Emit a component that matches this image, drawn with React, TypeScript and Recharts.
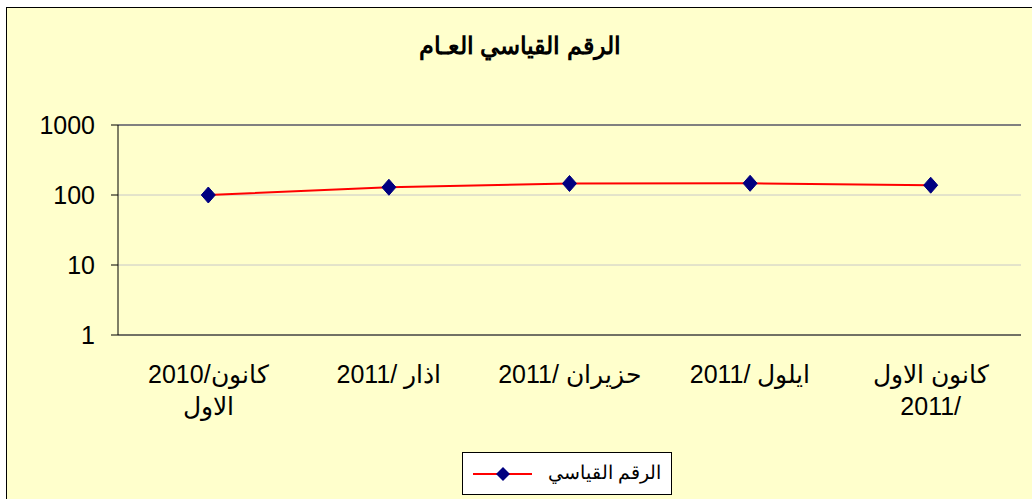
import { LineChart, Line, XAxis, YAxis, CartesianGrid, Legend, ReferenceLine } from "recharts";

const labelsTop = ["كانون/2010", "اذار /2011", "حزيران /2011", "ايلول /2011", "كانون الاول"];
const labelsBottom = ["الاول", "", "", "", "2011/"];
const values = [100, 129, 146, 147, 138];
const yTicks = [1, 10, 100, 1000];
const seriesName = "الرقم القياسي";
const title = "الرقم القياسي العـام";

const data = values.map((v, i) => ({ idx: i, value: v }));
const boundaries = [-0.5, 0.5, 1.5, 2.5, 3.5, 4.5];

const FONT = "'Liberation Sans', Arial, sans-serif";

const Diamond = (props: any) => {
  const { cx, cy } = props;
  if (cx == null || cy == null) return null;
  return (
    <polygon
      points={`${cx},${cy - 8} ${cx + 7},${cy} ${cx},${cy + 8} ${cx - 7},${cy}`}
      fill="#000080"
      stroke="#000080"
    />
  );
};

const XTick = (props: any) => {
  const { x, y, payload } = props;
  const i = payload.value;
  return (
    <g>
      <text x={x} y={y + 33} textAnchor="middle" fontSize={25} fill="#000" fontFamily={FONT}>
        {labelsTop[i]}
      </text>
      {labelsBottom[i] && (
        <text x={x} y={y + 65} textAnchor="middle" fontSize={25} fill="#000" fontFamily={FONT}>
          {labelsBottom[i]}
        </text>
      )}
    </g>
  );
};

const LegendBox = () => (
  <div
    style={{
      width: 208,
      height: 41,
      border: "1px solid #000",
      background: "#fff",
      position: "relative",
      fontFamily: FONT,
    }}
  >
    <svg width={80} height={41} style={{ position: "absolute", left: 8, top: 0 }}>
      <line x1={2} y1={21} x2={61} y2={21} stroke="#FF0000" strokeWidth={2} />
      <polygon points="32,14 39,21 32,28 25,21" fill="#000080" />
    </svg>
    <div style={{ position: "absolute", right: 10, top: 8, fontSize: 19, color: "#000" }}>
      {seriesName}
    </div>
  </div>
);

export default function App() {
  return (
    <div
      style={{
        position: "fixed",
        left: 0,
        top: 0,
        width: 1032,
        height: 499,
        overflow: "hidden",
        background: "#fff",
      }}
    >
      <div
        style={{
          position: "absolute",
          left: 6,
          top: 7,
          width: 1040,
          height: 510,
          border: "1px solid #000",
          background: "#FFFFCC",
        }}
      >
        <div
          style={{
            position: "absolute",
            left: 0,
            width: 1026,
            top: 24,
            textAlign: "center",
            fontFamily: FONT,
            fontWeight: "bold",
            fontSize: 24,
            color: "#000",
          }}
        >
          {title}
        </div>
        <LineChart
          width={1040}
          height={510}
          data={data}
          margin={{ top: 117, right: 26, left: 0, bottom: 73 }}
        >
          <CartesianGrid vertical={false} stroke="#C8C8C8" strokeWidth={1} />
          <XAxis
            xAxisId="grid"
            dataKey="idx"
            type="number"
            domain={[-0.5, 4.5]}
            ticks={boundaries}
            tick={false}
            tickSize={7}
            height={7}
            axisLine={{ stroke: "#000", strokeWidth: 1 }}
            tickLine={{ stroke: "#000" }}
          />
          <XAxis
            xAxisId="lab"
            dataKey="idx"
            type="number"
            domain={[-0.5, 4.5]}
            ticks={[0, 1, 2, 3, 4]}
            axisLine={false}
            tickLine={false}
            tick={<XTick />}
            height={60}
            interval={0}
          />
          <YAxis
            scale="log"
            domain={[1, 1000]}
            ticks={yTicks}
            allowDataOverflow
            width={111}
            tickSize={7}
            tickMargin={16}
            axisLine={{ stroke: "#000" }}
            tickLine={{ stroke: "#000" }}
            tick={{ fill: "#000", fontSize: 25, fontFamily: FONT }}
          />
          <YAxis
            yAxisId="r"
            orientation="right"
            scale="log"
            domain={[1, 1000]}
            width={0}
            tick={false}
            tickLine={false}
            axisLine={{ stroke: "#808080", strokeWidth: 2 }}
          />
          <ReferenceLine y={1000} xAxisId="lab" stroke="#808080" strokeWidth={2} />
          <Legend
            content={<LegendBox />}
            wrapperStyle={{ position: "absolute", left: 455, top: 444, width: 210, bottom: "auto" }}
          />
          <Line
            xAxisId="lab"
            dataKey="value"
            name={seriesName}
            stroke="#FF0000"
            strokeWidth={2}
            dot={<Diamond />}
            activeDot={false}
            isAnimationActive={false}
          />
        </LineChart>
      </div>
    </div>
  );
}
